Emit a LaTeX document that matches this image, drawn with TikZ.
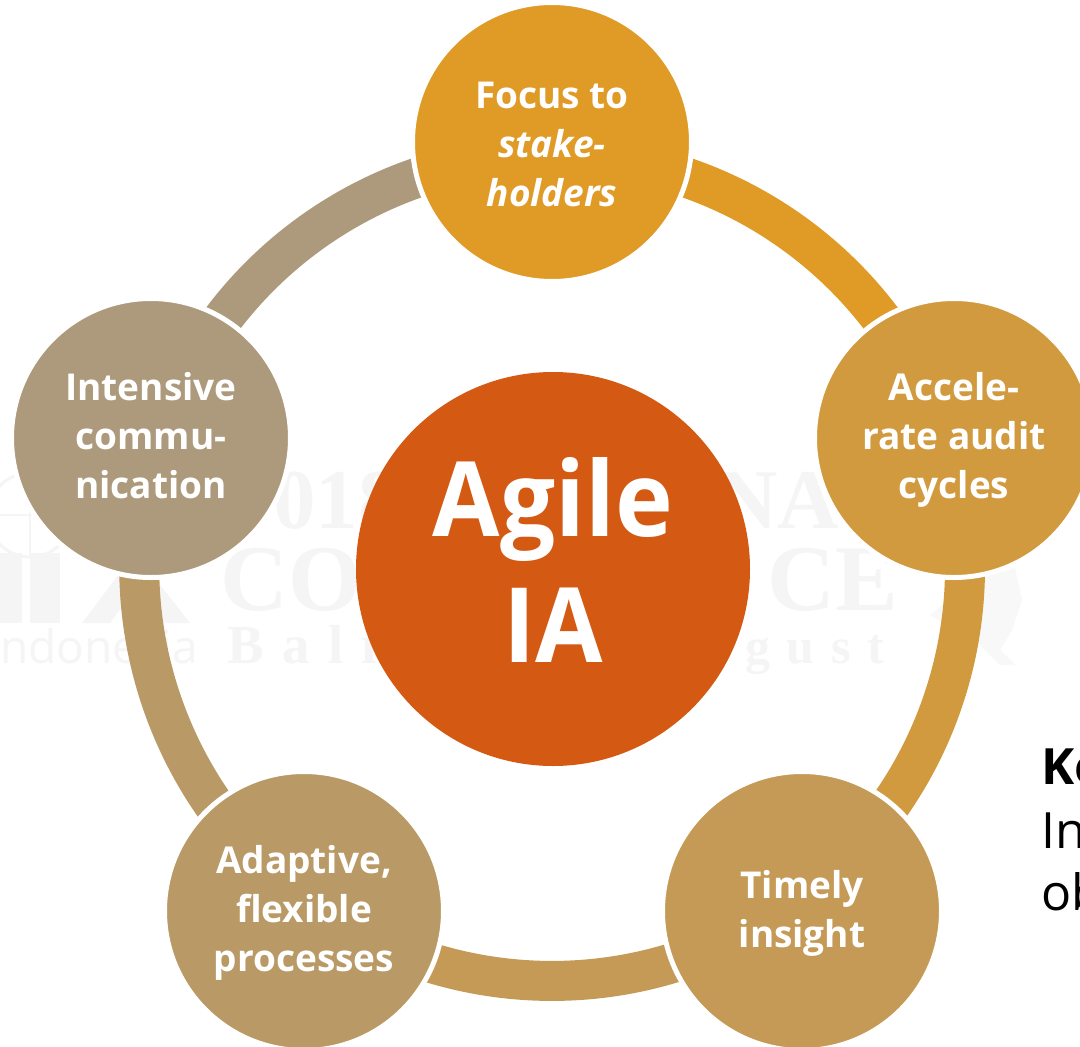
\documentclass[tikz,border=0pt]{standalone}
\usepackage{fontspec}
\setmainfont{Open Sans}
\newfontfamily\wmfont{Liberation Serif}
\newfontfamily\bigfont[FakeStretch=0.94]{Open Sans}
\usetikzlibrary{calc}
\definecolor{cA}{HTML}{E09A26}
\definecolor{cB}{HTML}{D29A3E}
\definecolor{cC}{HTML}{C49A56}
\definecolor{cD}{HTML}{B99A66}
\definecolor{cE}{HTML}{AD9A7C}
\definecolor{cM}{HTML}{D45A14}
\definecolor{wm}{HTML}{F5F5F5}
\newcommand{\pushdown}{\rule{0pt}{32pt}}
\pgfdeclarelayer{conn}
\pgfsetlayers{conn,main}
\tikzset{
 x=1pt,y=-1pt,
 ring/.style={line width=40pt,line cap=butt,bend left=36,looseness=.94},
 disc/.style={circle,fill=#1,draw=white,line width=5pt,minimum size=279pt,inner sep=0pt,text=white,align=center,font=\fontsize{37}{49}\selectfont\bfseries},
 wmtext/.style={text=wm,inner sep=0pt,anchor=base west,font=\wmfont\bfseries\fontsize{#1}{#1}\selectfont},
 wmsans/.style={text=wm,inner sep=0pt,anchor=base west,font=\fontsize{#1}{#1}\selectfont},
 side/.style={anchor=base west,inner sep=0pt,font=\fontsize{50}{60}\selectfont},
}
\begin{document}
\begin{tikzpicture}
\useasboundingbox (0,0) rectangle (1080,1047);
\coordinate (o) at (552,568);
\node[disc=cA] (a) at (552,142) {\pushdown Focus to\\\textit{stake-}\\\textit{holders}};
\node[disc=cB] (b) at (954,438) {\pushdown Accele-\\rate audit\\cycles};
\node[disc=cC] (c) at (802,911) {\pushdown Timely\\insight};
\node[disc=cD] (d) at (304,911) {\pushdown Adaptive,\\flexible\\processes};
\node[disc=cE] (e) at (151,438) {Intensive\\commu-\\nication\rule[-6pt]{0pt}{0pt}};
\node[circle,fill=cM,minimum size=394pt,inner sep=0pt,text=white,align=center,font=\bigfont\fontsize{104}{126}\selectfont\bfseries] (m) at (553,569) {Agile\\IA\rule[-18pt]{0pt}{0pt}};
\node[side,font=\fontsize{50}{60}\selectfont\bfseries] (k) at (1041,784) {Ke};
\node[side] (l) at (1041,848) {In};
\node[side] (n) at (1041,910) {ob};
\begin{pgfonlayer}{conn}
\fill[white] (0,0) rectangle (1080,1047);
% faint background marks
\draw[wm,line width=3pt] (30,515) circle[radius=42pt];
\draw[wm,line width=2pt] (30,473) -- (30,557) (-12,515) -- (72,515);
\fill[wm] (0,553) rectangle (22,623);
\fill[wm] (30,553) rectangle (60,623);
\fill[wm] (82,623) -- (135,553) -- (190,623) -- (160,623) -- (135,590) -- (110,623) -- cycle;
\fill[wm!70!white] (930,615) -- (975,580) -- (1015,568) -- (1022,600) -- (1012,630) -- (1000,650) -- (1015,665) -- (1000,665) -- (975,640) -- cycle;
\node[wmtext=85] (w1) at (273,528) {018};
\node[wmtext=85] (w2) at (716,528) {NA};
\node[wmtext=94] (w3) at (220,610) {CO};
\node[wmtext=94] (w4) at (767,610) {CE};
\node[wmsans=46] (w5) at (0,663) {ndonesia};
\node[wmtext=55] (w6) at (227,663) {B\,\,a\,\,l\,\,i};
\node[wmtext=50] (w7) at (745,663) {g\,\,u\,\,s\,\,t};
\draw[ring,cA] ($(o)!413pt!(a.center)$) to ($(o)!413pt!(b.center)$);
\draw[ring,cB] ($(o)!413pt!(b.center)$) to ($(o)!413pt!(c.center)$);
\draw[ring,cC] ($(o)!413pt!(c.center)$) to ($(o)!413pt!(d.center)$);
\draw[ring,cD] ($(o)!413pt!(d.center)$) to ($(o)!413pt!(e.center)$);
\draw[ring,cE] ($(o)!413pt!(e.center)$) to ($(o)!413pt!(a.center)$);
\end{pgfonlayer}
\end{tikzpicture}
\end{document}
